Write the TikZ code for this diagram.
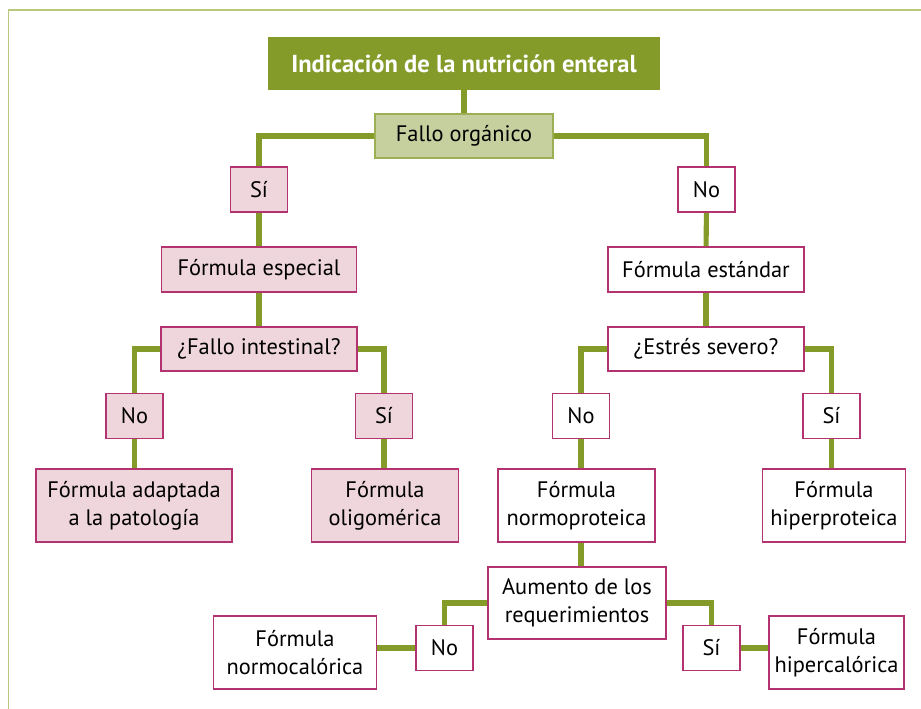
\documentclass[tikz,border=0pt]{standalone}
\usepackage{fontspec}
\setmainfont{PT Sans}
\definecolor{olivo}{HTML}{849B2A}
\definecolor{verdeclaro}{HTML}{C6D09E}
\definecolor{marco}{HTML}{B8C97E}
\definecolor{magenta}{HTML}{B2336F}
\definecolor{rosa}{HTML}{EED6DC}
\begin{document}
\begin{tikzpicture}[x=0.75pt,y=-0.75pt,
  every node/.style={font=\fontsize{16.8}{21}\selectfont, align=center, inner sep=0pt},
  caja/.style={draw=magenta, line width=1.1pt, fill=white, minimum height=34pt},
  cajarosa/.style={caja, fill=rosa},
  resp/.style={caja, minimum width=43pt},
  resprosa/.style={cajarosa, minimum width=43pt},
  doble/.style={minimum height=55pt},
  rama/.style={olivo, line width=3.8pt}]
\useasboundingbox (0,0) rectangle (921,709);
\draw[marco, line width=1.2pt] (8.5,709) -- (8.5,10) -- (921,10);

\node[fill=olivo, text=white, font=\fontsize{18.4}{22}\bfseries, minimum width=294pt, minimum height=40pt] (titulo) at (464,63.5) {Indicación de la nutrición enteral};
\node[draw=olivo!80, line width=1.1pt, fill=verdeclaro, minimum width=133.5pt, minimum height=33pt] (fallo) at (464,136) {Fallo orgánico};

\node[resprosa] (si1) at (259,189.5) {Sí};
\node[resp] (no1) at (706.5,189.5) {No};

\node[cajarosa, minimum width=146pt] (especial) at (259,269.5) {Fórmula especial};
\node[cajarosa, minimum width=147pt, minimum height=33pt] (intestinal) at (259,349) {¿Fallo intestinal?};
\node[resprosa] (no2) at (134.5,416) {No};
\node[resprosa] (si2) at (384,416) {Sí};
\node[cajarosa, doble, minimum width=147pt] (adaptada) at (134,505.5) {Fórmula adaptada\\a la patología};
\node[cajarosa, doble, minimum width=110pt] (oligo) at (385,505.5) {Fórmula\\oligomérica};

\node[caja, minimum width=147pt] (estandar) at (706,269.5) {Fórmula estándar};
\node[caja, minimum width=147pt, minimum height=33pt] (estres) at (706,349) {¿Estrés severo?};
\node[resp] (no3) at (581,416) {No};
\node[resp] (si3) at (831.5,416) {Sí};
\node[caja, doble, minimum width=118pt] (normoprot) at (576.5,505.5) {Fórmula\\normoproteica};
\node[caja, doble, minimum width=107pt] (hiperprot) at (834,505.5) {Fórmula\\hiperproteica};

\node[caja, minimum width=133.5pt, minimum height=54pt] (aumento) at (577,603) {Aumento de los\\requerimientos};
\node[resp] (no4) at (444.5,648) {No};
\node[resp] (si4) at (711.5,648) {Sí};
\node[caja, doble, minimum width=122.5pt] (normocal) at (295,652.5) {Fórmula\\normocalórica};
\node[caja, doble, minimum width=101pt] (hipercal) at (836.5,652.5) {Fórmula\\hipercalórica};

\draw[rama] (titulo) -- (fallo);
\draw[rama] (fallo.west) -| (si1.north);
\draw[rama] (fallo.east) -| (no1.north);
\draw[rama] (si1) -- (especial);
\draw[rama] (especial) -- (intestinal);
\draw[rama] (intestinal.west) -| (no2.north);
\draw[rama] (intestinal.east) -| (si2.north);
\draw[rama] (no2.south) -- (no2.south |- adaptada.north);
\draw[rama] (si2.south) -- (si2.south |- oligo.north);
\draw[rama] (no1) -- (estandar);
\draw[rama] (estandar) -- (estres);
\draw[rama] (estres.west) -| (no3.north);
\draw[rama] (estres.east) -| (si3.north);
\draw[rama] (no3.south) -- (no3.south |- normoprot.north);
\draw[rama] (si3.south) -- (si3.south |- hiperprot.north);
\draw[rama] (no3.south |- normoprot.south) -- (no3.south |- aumento.north);
\draw[rama] (aumento.west) -| (no4.north);
\draw[rama] (aumento.east) -| (si4.north);
\draw[rama] (no4.west) -- (no4.west -| normocal.east);
\draw[rama] (si4.east) -- (si4.east -| hipercal.west);
\end{tikzpicture}
\end{document}
